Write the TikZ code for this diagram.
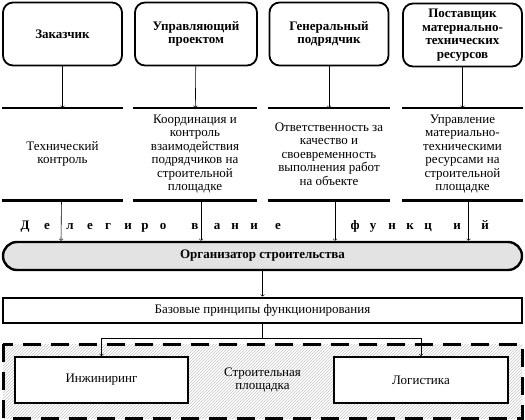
\documentclass[tikz,border=0pt]{standalone}
\usepackage{fontspec}
\setmainfont{Liberation Serif}
\usepackage{tikz}
\usetikzlibrary{shapes, arrows, positioning, patterns}

\begin{document}
\begin{tikzpicture}[
        x=1pt, y=-1pt,
        font=\fontsize{13}{13.5}\selectfont,
        party/.style={rectangle, draw, rounded corners=10pt, line width=1.8pt, minimum width=119pt, minimum height=63pt, align=center, inner sep=2pt, font=\fontsize{13}{13.5}\selectfont\bfseries},
        role/.style={rectangle, minimum width=120pt, minimum height=92pt, align=center, inner sep=0pt},
        heavy/.style={line width=2.6pt},
        plainbox/.style={rectangle, draw, line width=2pt, fill=white},
        arrow/.style={->, >=to, semithick}
    ]
    \useasboundingbox (0,0) rectangle (525,420);

    % participants
    \node [party] (client) at (62.5,34) {Заказчик};
    \node [party, minimum width=122pt] (manager) at (196,34) {Управляющий\\проектом};
    \node [party] (general) at (329,34) {Генеральный\\подрядчик};
    \node [party] (supplier) at (462.5,35) {Поставщик\\материально-\\технических\\ресурсов};

    % their functions
    \node [role] (f1) at (62.5,154) {Технический\\контроль};
    \node [role, minimum width=124pt] (f2) at (195,154) {Координация и\\контроль\\взаимодействия\\подрядчиков на\\строительной\\площадке};
    \node [role, minimum width=122pt] (f3) at (329,154) {Ответственность за\\качество и\\своевременность\\выполнения работ\\на объекте};
    \node [role, minimum width=121pt] (f4) at (462.5,154) {Управление\\материально-\\техническими\\ресурсами на\\строительной\\площадке};

    \foreach \f in {f1,f2,f3,f4} {
        \draw [heavy] (\f.north west) -- (\f.north east);
        \draw [heavy] (\f.south west) -- (\f.south east);
    }

    \draw [arrow] (client) -- (f1);
    \draw [arrow] (manager) -- (f2);
    \draw [arrow] (general) -- (f3);
    \draw [arrow] (supplier) -- (f4);

    % organizer
    \node [rectangle, draw, line width=2.4pt, rounded corners=14pt, fill=gray!22, minimum width=519pt, minimum height=28pt, font=\fontsize{13}{13.5}\selectfont\bfseries] (org) at (262.5,256) {Организатор строительства};

    \draw [arrow] ([xshift=-1pt]f1.south) -- ([xshift=-1.5pt]f1.south |- org.north);
    \draw [arrow] ([xshift=6pt]f2.south) -- ([xshift=6pt]f2.south |- org.north);
    \draw [arrow] ([xshift=6pt]f3.south) -- ([xshift=6pt]f3.south |- org.north);
    \draw [arrow] ([xshift=6pt]f4.south) -- ([xshift=6pt]f4.south |- org.north);

    \foreach \c/\x in {Д/25, е/47, л/70, е/90, г/108, и/128, р/145, о/163, в/195, а/217, н/235, и/254, е/278,
                       ф/355, у/373, н/392, к/410, ц/428, и/457, й/485}
        \node [font=\fontsize{13}{13.5}\selectfont\bfseries, inner sep=0pt, anchor=base] at (\x,229) {\c};

    % principles
    \node [plainbox, minimum width=519pt, minimum height=25pt] (base) at (262.5,310) {Базовые принципы функционирования};
    \draw [arrow] (org) -- (base);

    % site
    \fill [pattern=north east lines, pattern color=gray!45] (3,344) rectangle (522,418);
    \draw [line width=3pt, dash pattern=on 18pt off 10pt] (3,344) rectangle (522,418);

    \node [plainbox, minimum width=173pt, minimum height=46pt] (eng) at (101.5,380) {Инжиниринг};
    \node [plainbox, minimum width=174pt, minimum height=46pt] (logi) at (421,380) {Логистика};
    \node [align=center] (site) at (262.5,380) {Строительная\\площадка};

    \coordinate (split) at (262.5,338);
    \draw [semithick] (base) -- (split);
    \draw [arrow] (split) -| (eng);
    \draw [arrow] (split) -| (logi);

\end{tikzpicture}
\end{document}
